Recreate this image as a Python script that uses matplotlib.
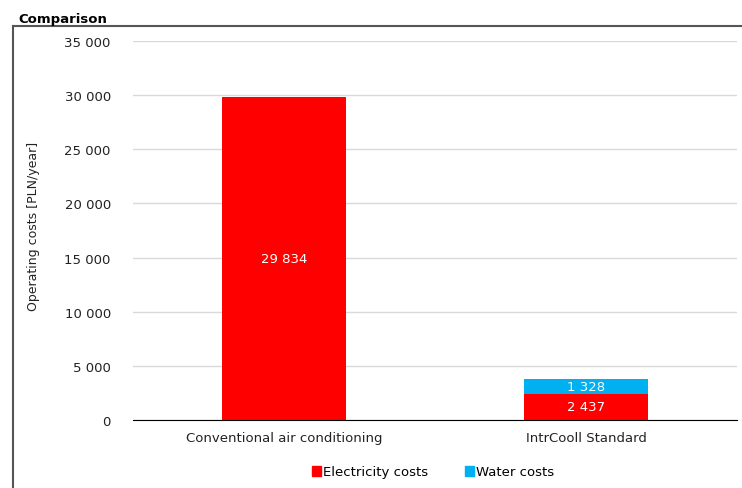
import matplotlib.pyplot as plt
import numpy as np
from matplotlib.lines import Line2D
from matplotlib.patches import Rectangle

# data
categories = ['Conventional air conditioning', 'IntrCooll Standard']
electricity = [29834, 2437]
water = [0, 1328]
series_names = ['Electricity costs', 'Water costs']
colors = ['#ff0000', '#00b0f0']

def fmt(v):
    return '{:,}'.format(int(v)).replace(',', ' ')

fig = plt.figure(figsize=(7.42, 4.89), dpi=100)
ax = fig.add_axes([133/742, 1-421/489, 604/742, (421-42)/489])

x = np.arange(len(categories))
w = 0.41
ax.bar(x, electricity, w, color=colors[0], zorder=3)
ax.bar(x, water, w, bottom=electricity, color=colors[1], zorder=3)

for i in range(len(categories)):
    ax.text(x[i], electricity[i]/2, fmt(electricity[i]), color='white',
            ha='center', va='center', fontsize=9.5, zorder=4)
    if water[i] > 0:
        ax.text(x[i], electricity[i] + water[i]/2, fmt(water[i]), color='white',
                ha='center', va='center', fontsize=9.5, zorder=4)

ax.set_xlim(-0.5, 1.5)
ax.set_ylim(0, 35000)
ax.set_yticks(np.arange(0, 35001, 5000))
ax.set_yticklabels([fmt(v) for v in np.arange(0, 35001, 5000)])
ax.set_xticks(x)
ax.set_xticklabels(categories)
ax.tick_params(axis='both', length=0, labelsize=9.5, colors='#222222')
ax.tick_params(axis='y', pad=16)
ax.tick_params(axis='x', pad=8)
ax.grid(axis='y', color='#d9d9d9', linewidth=1, zorder=0)
for s in ['top', 'right', 'left']:
    ax.spines[s].set_visible(False)
ax.spines['bottom'].set_color('black')
ax.spines['bottom'].set_zorder(5)

fig.text(34/742, 1-226/489, 'Operating costs [PLN/year]', rotation=90,
         ha='center', va='center', fontsize=9, color='#222222')

# title and frame
fig.text(18/742, 1-19/489, 'Comparison', fontsize=9.5, fontweight='bold', ha='left', va='center')
fig.add_artist(Line2D([13/742, 1], [1-27/489, 1-27/489], color='#555555', linewidth=1.5))
fig.add_artist(Line2D([13/742, 13/742], [0, 1-27/489], color='#555555', linewidth=1.5))

handles = [Rectangle((0, 0), 1, 1, color=c) for c in colors]
fig.legend(handles, series_names, loc='center', bbox_to_anchor=(433/742, 1-473/489),
           ncol=2, frameon=False, fontsize=9.5, handlelength=0.7, handleheight=0.7,
           handletextpad=0.15, columnspacing=2.8)

fig.savefig('out.png', dpi=100)
